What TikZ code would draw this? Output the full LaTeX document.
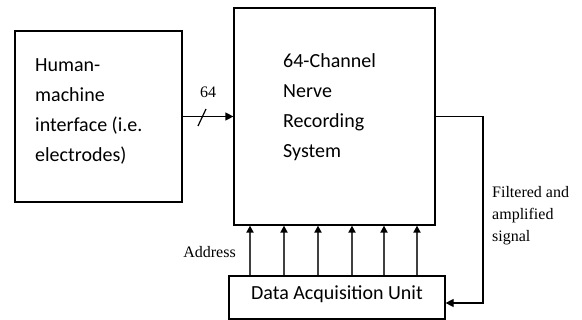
\documentclass[tikz,border=0pt]{standalone}
\usepackage{fontspec}
\setmainfont{Liberation Serif}
\newfontfamily\boxfont{Carlito}
\usetikzlibrary{arrows.meta}
\begin{document}
\begin{tikzpicture}[x=1pt,y=-1pt,
  blk/.style={draw=black,line width=1.2pt,rectangle,inner sep=0pt},
  btxt/.style={font=\boxfont\fontsize{20}{30}\selectfont,align=left,anchor=north west,inner sep=0pt},
  lbl/.style={font=\fontsize{16}{22}\selectfont,inner sep=0pt},
  arr/.style={line width=1.2pt,-{Triangle[length=8pt,width=8pt]}},
  bus/.style={line width=1.8pt,draw=black!75,-{Triangle[length=7pt,width=7pt,fill=black,color=black]}}]
\useasboundingbox (0,0) rectangle (582,320);
\fill[white] (0,0) rectangle (582,320);
% boxes
\node[blk,minimum width=167pt,minimum height=171pt] (hmi) at (98.5,116.5) {};
\node[blk,minimum width=201pt,minimum height=217pt] (main) at (334.5,116.5) {};
\node[blk,minimum width=216pt,minimum height=43pt] (dau) at (337,297.5) {};
% texts
\node[btxt] (hmit) at (35,58) {Human-\\machine\\interface (i.e.\\electrodes)};
\node[btxt] (maint) at (283,53) {64-Channel\\Nerve\\Recording\\System};
\node[font=\boxfont\fontsize{20}{24}\selectfont,inner sep=0pt] (daut) at (337,294) {Data Acquisition Unit};
% input arrow
\draw[arr] (hmi.east) -- (main.west);
\coordinate (s1) at (198,126);
\coordinate (s2) at (206,109);
\draw[line width=1.2pt] (s1) -- (s2);
\node[lbl] (n64) at (208,92) {64};
% bus arrows
\foreach \i/\x in {1/250,2/284,3/318,4/352,5/384,6/417}{
  \coordinate (b\i) at (\x,0);
  \draw[bus] (b\i |- dau.north) -- (b\i |- main.south);
}
\node[lbl,anchor=east] (addr) at (236,252) {Address};
% output feedback
\coordinate (c1) at (483,303);
\draw[arr] (main.east) -| (c1) -- (c1 -| dau.east);
\node[lbl,align=left,anchor=north west] (filt) at (492,186) {Filtered and\\amplified\\signal};
\end{tikzpicture}
\end{document}
